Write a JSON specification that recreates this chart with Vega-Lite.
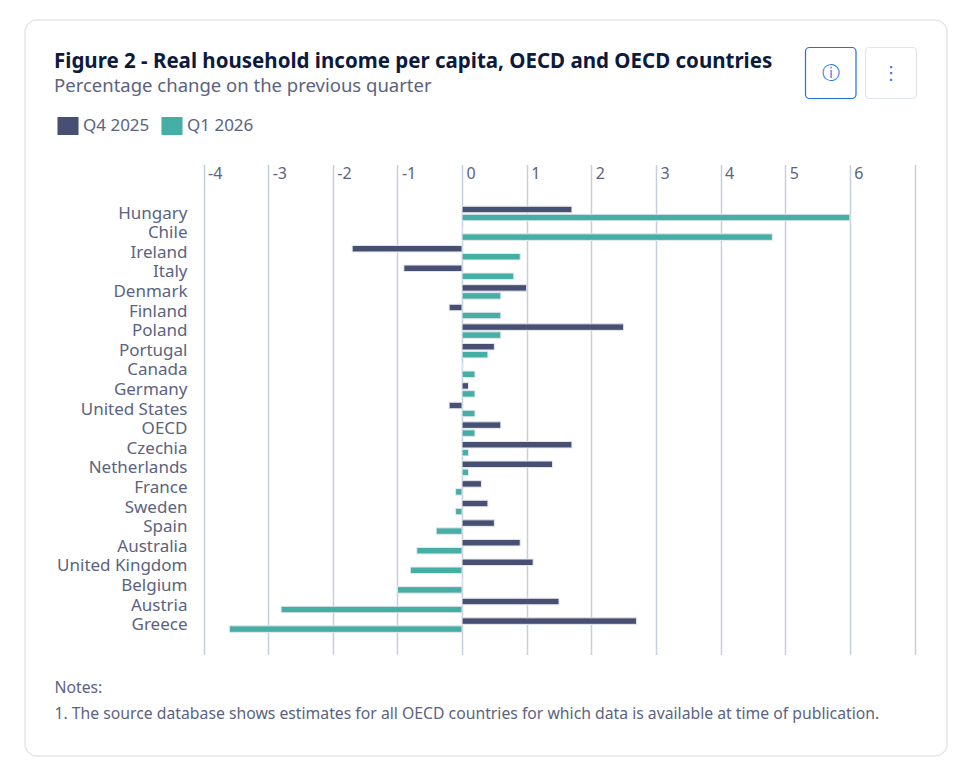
{
"$schema":"https://vega.github.io/schema/vega-lite/v6.json",
"width":922,"height":736,
"autosize":"none",
"padding":{"left":25,"top":20,"right":9,"bottom":11},
"background":"white",
"config":{"font":"Noto Sans","view":{"stroke":"#e3e6ec","strokeWidth":1.5,"cornerRadius":12,"fill":"white"}},
"title":{"text":"Figure 2 - Real household income per capita, OECD and OECD countries","subtitle":"Percentage change on the previous quarter","anchor":"start","frame":"group","orient":"top","offset":-75,"dx":29,"font":"Noto Sans","fontSize":20.5,"fontWeight":"bold","color":"#0c1a3e","subtitleFont":"Noto Sans","subtitleFontSize":18.5,"subtitleColor":"#5b6380","subtitlePadding":4},
"layer":[
{"data":{"values":[
{"country":"Hungary","period":"Q4 2025","value":1.7},{"country":"Hungary","period":"Q1 2026","value":6.0},
{"country":"Chile","period":"Q4 2025","value":0},{"country":"Chile","period":"Q1 2026","value":4.8},
{"country":"Ireland","period":"Q4 2025","value":-1.7},{"country":"Ireland","period":"Q1 2026","value":0.9},
{"country":"Italy","period":"Q4 2025","value":-0.9},{"country":"Italy","period":"Q1 2026","value":0.8},
{"country":"Denmark","period":"Q4 2025","value":1.0},{"country":"Denmark","period":"Q1 2026","value":0.6},
{"country":"Finland","period":"Q4 2025","value":-0.2},{"country":"Finland","period":"Q1 2026","value":0.6},
{"country":"Poland","period":"Q4 2025","value":2.5},{"country":"Poland","period":"Q1 2026","value":0.6},
{"country":"Portugal","period":"Q4 2025","value":0.5},{"country":"Portugal","period":"Q1 2026","value":0.4},
{"country":"Canada","period":"Q4 2025","value":0},{"country":"Canada","period":"Q1 2026","value":0.2},
{"country":"Germany","period":"Q4 2025","value":0.1},{"country":"Germany","period":"Q1 2026","value":0.2},
{"country":"United States","period":"Q4 2025","value":-0.2},{"country":"United States","period":"Q1 2026","value":0.2},
{"country":"OECD","period":"Q4 2025","value":0.6},{"country":"OECD","period":"Q1 2026","value":0.2},
{"country":"Czechia","period":"Q4 2025","value":1.7},{"country":"Czechia","period":"Q1 2026","value":0.1},
{"country":"Netherlands","period":"Q4 2025","value":1.4},{"country":"Netherlands","period":"Q1 2026","value":0.1},
{"country":"France","period":"Q4 2025","value":0.3},{"country":"France","period":"Q1 2026","value":-0.1},
{"country":"Sweden","period":"Q4 2025","value":0.4},{"country":"Sweden","period":"Q1 2026","value":-0.1},
{"country":"Spain","period":"Q4 2025","value":0.5},{"country":"Spain","period":"Q1 2026","value":-0.4},
{"country":"Australia","period":"Q4 2025","value":0.9},{"country":"Australia","period":"Q1 2026","value":-0.7},
{"country":"United Kingdom","period":"Q4 2025","value":1.1},{"country":"United Kingdom","period":"Q1 2026","value":-0.8},
{"country":"Belgium","period":"Q4 2025","value":0},{"country":"Belgium","period":"Q1 2026","value":-1.0},
{"country":"Austria","period":"Q4 2025","value":1.5},{"country":"Austria","period":"Q1 2026","value":-2.8},
{"country":"Greece","period":"Q4 2025","value":2.7},{"country":"Greece","period":"Q1 2026","value":-3.6}
]},
"mark":{"type":"bar","stroke":"#e4e7ef","strokeWidth":1},
"encoding":{
"x":{"field":"value","type":"quantitative","scale":{"domain":[-4,7],"range":[178.5,889.5],"nice":false},
 "axis":{"orient":"top","offset":-144.5,"values":[-4,-3,-2,-1,0,1,2,3,4,5,6,7],"grid":false,"domain":false,"ticks":true,"tickSize":-490,"tickColor":"#c6cfdd","tickWidth":1.5,
  "labelExpr":"datum.value==7?'':toString(datum.value)","labelAlign":"left","labelOffset":4,"labelBaseline":"middle","labelPadding":481,"labelFontSize":16,"labelColor":"#5b6380","labelFont":"Noto Sans","labelFlush":false,"labelOverlap":false,
  "title":["Notes:","1. The source database shows estimates for all OECD countries for which data is available at time of publication."],"titleX":29,"titleY":527.5,"titleAlign":"left","titleAnchor":"start","titleAngle":0,"titleBaseline":"alphabetic","titleFont":"Noto Sans","titleFontSize":15.75,"titleFontWeight":"normal","titleColor":"#5b6380","titleLineHeight":26}},
"y":{"field":"country","type":"nominal","scale":{"domain":[" ","  ","Hungary","Chile","Ireland","Italy","Denmark","Finland","Poland","Portugal","Canada","Germany","United States","OECD","Czechia","Netherlands","France","Sweden","Spain","Australia","United Kingdom","Belgium","Austria","Greece","   "],"range":[144.5,634.5],"paddingInner":0,"paddingOuter":0},
 "axis":{"orient":"left","offset":-162,"title":null,"domain":false,"ticks":false,"labelPadding":0,"labelFontSize":17,"labelColor":"#5b6380","labelFont":"Noto Sans","labelOverlap":false,"labelBaseline":"middle"}},
"yOffset":{"field":"period","type":"nominal","scale":{"domain":["Q4 2025","Q1 2026"],"paddingInner":0.19,"paddingOuter":0.32}},
"color":{"field":"period","type":"nominal","scale":{"domain":["Q4 2025","Q1 2026"],"range":["#474f72","#45aea5"]},
 "legend":{"orient":"none","legendX":34,"legendY":97,"direction":"horizontal","title":null,"columns":2,"symbolType":"M-1.17,-1H1.17V1H-1.17Z","symbolSize":324,"symbolStrokeWidth":0,"symbolOpacity":1,"labelFontSize":17,"labelColor":"#5b6380","labelFont":"Noto Sans","labelOffset":6,"columnPadding":11,"symbolOffset":0}}
}},
{"data":{"values":[{"button":"info"}]},
"mark":{"type":"rect","fill":"white","stroke":"#1f6fe5","cornerRadius":4,"strokeWidth":1.2},
"encoding":{"x":{"value":780.5},"x2":{"value":831},"y":{"value":27.5},"y2":{"value":78.5}}},
{"data":{"values":[{"button":"more"}]},
"mark":{"type":"rect","fill":"white","stroke":"#e0e4ec","cornerRadius":4,"strokeWidth":1.2},
"encoding":{"x":{"value":840.5},"x2":{"value":891.5},"y":{"value":27.5},"y2":{"value":78.5}}},
{"data":{"values":[{"glyph":"ⓘ"}]},
"mark":{"type":"text","fontSize":18,"color":"#2a76e8","font":"DejaVu Sans","align":"center","baseline":"middle"},
"encoding":{"text":{"field":"glyph","type":"nominal"},"x":{"value":805.5},"y":{"value":54}}},
{"data":{"values":[{"glyph":"⋮"}]},
"mark":{"type":"text","fontSize":18,"color":"#2a76e8","font":"DejaVu Sans","align":"center","baseline":"middle"},
"encoding":{"text":{"field":"glyph","type":"nominal"},"x":{"value":866},"y":{"value":54}}}
]
}
